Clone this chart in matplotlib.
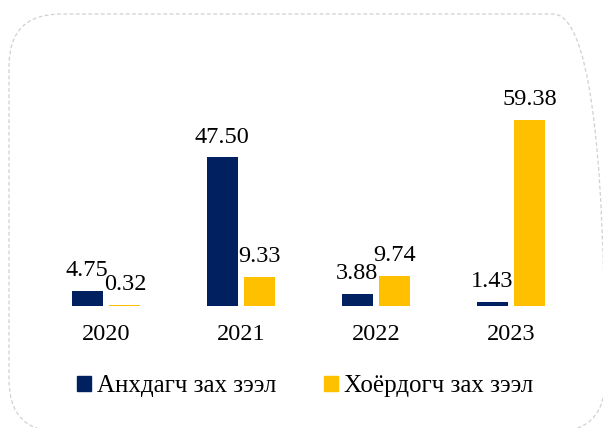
import matplotlib.pyplot as plt
import numpy as np
from matplotlib.patches import FancyBboxPatch, Patch

years = ["2020", "2021", "2022", "2023"]
primary = [4.75, 47.50, 3.88, 1.43]
secondary = [0.32, 9.33, 9.74, 59.38]
series_names = ["Анхдагч зах зээл", "Хоёрдогч зах зээл"]
colors = ["#002060", "#FFC000"]

plt.rcParams["font.family"] = ["Liberation Serif", "DejaVu Serif"]

fig = plt.figure(figsize=(6.03, 4.28), dpi=100)

# dashed rounded frame around the whole chart (pixel coords, origin bottom-left)
frame = FancyBboxPatch((9, -4), 596, 418, boxstyle="round,pad=0,rounding_size=52",
                       transform=None, fill=False, edgecolor="#d0d0d0",
                       linestyle=(0, (3, 2)), linewidth=0.9)
fig.patches.append(frame)

ax = fig.add_axes([38.5 / 603, 122 / 428, 540 / 603, 0.512])
x = np.arange(len(years))
w = 0.23
off = 0.14
b1 = ax.bar(x - off, primary, w, color=colors[0])
b2 = ax.bar(x + off, secondary, w, color=colors[1])

for bars, vals in ((b1, primary), (b2, secondary)):
    for rect, v in zip(bars, vals):
        ax.annotate(f"{v:.2f}", (rect.get_x() + rect.get_width() / 2, v),
                    xytext=(0, 7), textcoords="offset points",
                    ha="center", va="bottom", fontsize=17.5)

ax.set_xlim(-0.5, 3.5)
ax.set_ylim(0, 70)
ax.set_xticks(x)
ax.set_xticklabels(years, fontsize=17.5)
ax.tick_params(axis="x", length=0, pad=13)
ax.set_yticks([])
for s in ax.spines.values():
    s.set_visible(False)

handles = [Patch(color=c, label=n) for c, n in zip(colors, series_names)]
fig.legend(handles=handles, loc="center", bbox_to_anchor=(0.506, 0.098), ncol=2,
           frameon=False, fontsize=18, handlelength=0.55, handleheight=0.55,
           handletextpad=0.25, columnspacing=1.9)

fig.savefig("out.png", dpi=100)
